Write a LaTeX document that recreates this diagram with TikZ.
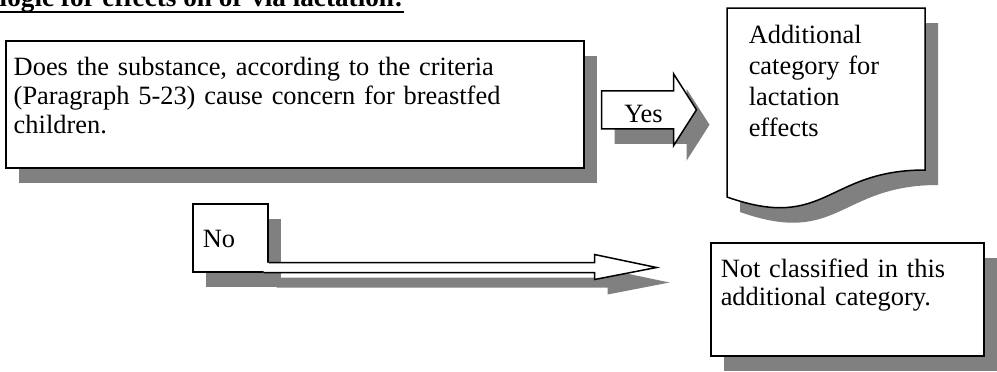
\documentclass[tikz,border=0pt]{standalone}
\usepackage{fontspec}
\setmainfont{Liberation Serif}
\usetikzlibrary{calc,shadows}

\begin{document}
\begin{tikzpicture}[x=0.5pt,y=-0.5pt,line width=0.75pt,
                    font=\fontsize{13.2pt}{14.5pt}\selectfont]
  \tikzstyle{shadowfill}=[fill=black!50,draw=none]
  \tikzstyle{whitefill}=[fill=white,draw=black]
  \tikzstyle{whiteonly}=[fill=white,draw=none]
  \tikzstyle{textbox}=[rectangle,draw=black,fill=white,anchor=north west,align=left,
                       inner xsep=5pt,inner ysep=8pt,text height=9.5pt,
                       general shadow={shadowfill,shadow xshift=6.5pt,shadow yshift=-7.5pt}]

  \useasboundingbox (0,0) rectangle (997,371);
  \clip (0,0) rectangle (997,371);

  % heading, cut off by the page
  \node[anchor=base west,inner sep=0pt,font=\fontsize{13.6pt}{14.5pt}\selectfont\bfseries]
      (title) at (-1,6.5) {logic for effects on or via lactation:};
  \draw[line width=1pt] ([yshift=-2.5pt]title.base west) -- ([yshift=-2.5pt]title.base east);

  \node[textbox,inner xsep=4pt,text width=281pt,text depth=38pt] (q) at (5,40)
      {Does the substance, according to the criteria\\(Paragraph 5-23) cause concern for breastfed\\children.};

  % yes arrow
  \coordinate (yestail) at ($(q.east)+(17,5.5)$);
  \coordinate (yestip)  at ($(yestail)+(95,0)$);
  \foreach \dx/\dy/\sty in {13/15/shadowfill,0/0/whitefill}
    \path[\sty] ($(yestail)+(\dx,\dy-19)$) -- ($(yestip)+(\dx-23,\dy-19)$)
       -- ($(yestip)+(\dx-23,\dy-36)$) -- ($(yestip)+(\dx,\dy)$)
       -- ($(yestip)+(\dx-23,\dy+36)$) -- ($(yestip)+(\dx-23,\dy+19)$)
       -- ($(yestail)+(\dx,\dy+19)$) -- cycle;
  \node[anchor=base west,inner sep=0pt] (yes) at ($(yestail)+(22,13)$) {Yes};

  % document shape for the extra category
  \foreach \dx/\dy/\sty in {13/15/shadowfill,0/0/whitefill}
    \path[\sty,shift={(\dx,\dy)}] (727,8) -- (925,8) -- (925,170)
       .. controls (826,170) and (826,232) .. (727,197) -- cycle;
  \node[anchor=base west,inner sep=0pt,text width=80pt,align=left,
        font=\fontsize{13.2pt}{15.5pt}\selectfont] (cat) at (748,43)
      {Additional\\category for\\lactation\\effects};

  % no branch
  \node[textbox,inner ysep=0pt,text width=27.5pt,minimum height=34pt] (no) at (192,203) {No};
  \coordinate (notail) at ($(no.south east)+(-5,-5)$);
  \coordinate (notip)  at ($(notail)+(393,0)$);
  \foreach \dx/\dy/\sty in {13/15/shadowfill,0/0/whiteonly}
    \path[\sty] ($(notail)+(\dx,\dy-5)$) -- ($(notip)+(\dx-62,\dy-5)$)
       -- ($(notip)+(\dx-62,\dy-13)$) -- ($(notip)+(\dx,\dy)$)
       -- ($(notip)+(\dx-62,\dy+12)$) -- ($(notip)+(\dx-62,\dy+5)$)
       -- ($(notail)+(\dx,\dy+5)$) -- cycle;
  \draw ($(notail)+(5,-5)$) -- ($(notip)+(-62,-5)$) -- ($(notip)+(-62,-13)$) -- (notip)
     -- ($(notip)+(-62,12)$) -- ($(notip)+(-62,5)$) -- ($(notail)+(0,5)$);

  \node[textbox,text width=126.5pt,text depth=31pt,font=\fontsize{13.2pt}{14pt}\selectfont]
      (nc) at (710,242) {Not classified in this\\additional category.};

\end{tikzpicture}
\end{document}
